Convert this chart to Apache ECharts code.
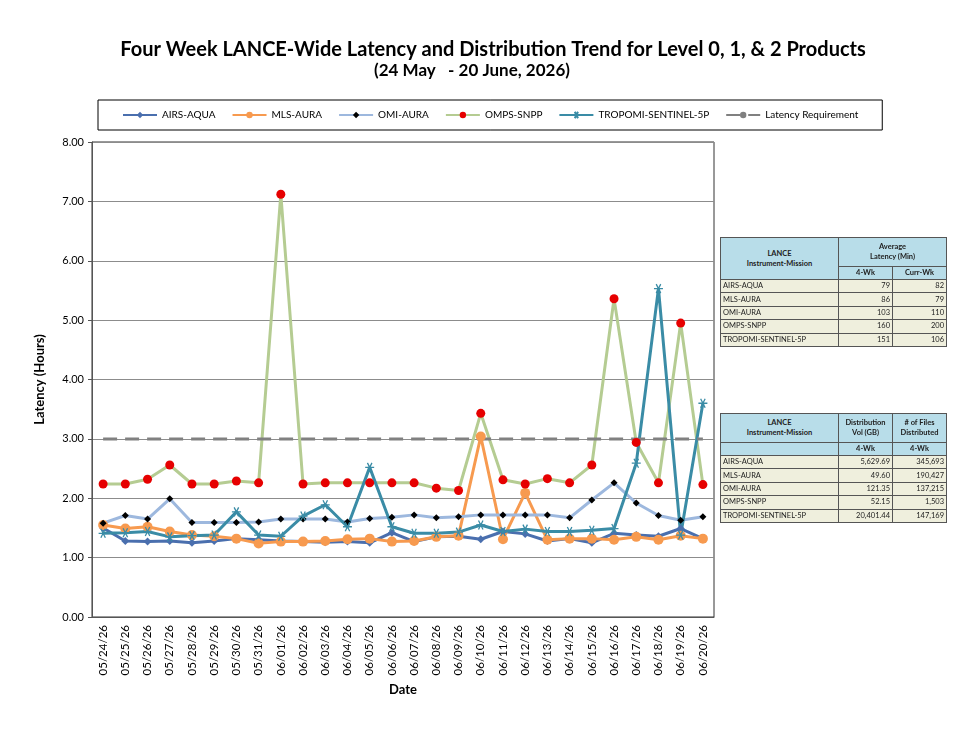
<!DOCTYPE html>
<html>
<head>
<meta charset="utf-8">
<script src="https://cdn.jsdelivr.net/npm/echarts@6/dist/echarts.min.js"></script>
<style>
  body { margin: 0; background: #fff; }
  #main { width: 972px; height: 729px; }
  .tbl { position: absolute; border-collapse: collapse; font-family: Lato, "Open Sans", sans-serif; font-size: 7.5px; color: #222; table-layout: fixed; }
  .tbl td { border: 1px solid #555; padding: 0 2px; height: 12.4px; line-height: 12px; background: #efefdd; white-space: nowrap; overflow: hidden; }
  .tbl td.h { background: #b8dde9; font-weight: bold; text-align: center; line-height: 10px; height: 28px; }
  .tbl tr.sub td.h { height: 12px; line-height: 12px; }
  .tbl td.n { text-align: right; }
</style>
</head>
<body>
<div id="main"></div>
<table class="tbl" id="t1" style="left:720px;top:237px;width:226px;"></table>
<table class="tbl" id="t2" style="left:720px;top:413px;width:226px;"></table>
<script>
// dates on the x axis
const dates = ['05/24/26','05/25/26','05/26/26','05/27/26','05/28/26','05/29/26','05/30/26',
  '05/31/26','06/01/26','06/02/26','06/03/26','06/04/26','06/05/26','06/06/26',
  '06/07/26','06/08/26','06/09/26','06/10/26','06/11/26','06/12/26','06/13/26',
  '06/14/26','06/15/26','06/16/26','06/17/26','06/18/26','06/19/26','06/20/26'];

// latency in hours
const airsAqua = [1.50,1.28,1.27,1.28,1.25,1.28,1.32,1.30,1.28,1.27,1.26,1.27,1.25,1.42,
  1.27,1.35,1.36,1.31,1.44,1.40,1.28,1.32,1.25,1.41,1.38,1.36,1.49,1.32];
const mlsAura = [1.55,1.49,1.52,1.44,1.38,1.36,1.32,1.24,1.27,1.27,1.28,1.31,1.32,1.27,
  1.28,1.35,1.37,3.04,1.31,2.09,1.30,1.32,1.32,1.30,1.35,1.30,1.37,1.32];
const omiAura = [1.58,1.71,1.65,1.99,1.59,1.59,1.59,1.60,1.65,1.65,1.65,1.60,1.66,1.68,
  1.72,1.67,1.69,1.72,1.72,1.72,1.72,1.67,1.97,2.26,1.92,1.71,1.63,1.69];
const ompsSnpp = [2.24,2.24,2.32,2.56,2.24,2.24,2.29,2.26,7.12,2.24,2.26,2.26,2.26,2.26,
  2.26,2.17,2.13,3.43,2.31,2.24,2.33,2.26,2.56,5.36,2.94,2.26,4.95,2.23];
const tropomi = [1.41,1.42,1.44,1.35,1.37,1.38,1.77,1.38,1.36,1.70,1.89,1.52,2.52,1.52,
  1.41,1.41,1.43,1.55,1.44,1.48,1.44,1.44,1.46,1.49,2.59,5.53,1.38,3.60];
const requirement = dates.map(() => 3.0);

// table values
const missions = ['AIRS-AQUA','MLS-AURA','OMI-AURA','OMPS-SNPP','TROPOMI-SENTINEL-5P'];
const avg4wk = ['79','86','103','160','151'];
const avgCurrWk = ['82','79','110','200','106'];
const volGB = ['5,629.69','49.60','121.35','52.15','20,401.44'];
const numFiles = ['345,693','190,427','137,215','1,503','147,169'];

const myChart = echarts.init(document.getElementById('main'));

const font = 'Lato, "Open Sans", sans-serif';

function lineSeries(name, data, color, symbol, symbolSize, symColor, extra) {
  return Object.assign({
    name: name,
    type: 'line',
    data: data,
    symbol: symbol,
    symbolSize: symbolSize,
    lineStyle: { color: color, width: 3 },
    itemStyle: { color: symColor },
    emphasis: { disabled: true },
  }, extra || {});
}

// excel style asterisk marker
const asterisk = 'path://M0,5L10,5M2.5,0.7L7.5,9.3M7.5,0.7L2.5,9.3';

const option = {
  backgroundColor: '#fff',
  animation: false,
  title: [
    {
      text: 'Four Week LANCE-Wide Latency and Distribution Trend for Level 0, 1, & 2 Products',
      left: 488,
      textAlign: 'center',
      top: 35,
      textStyle: { fontFamily: font, fontSize: 20, fontWeight: 'bold', color: '#000' },
    },
    {
      text: '(24 May   - 20 June, 2026)',
      left: 467,
      textAlign: 'center',
      top: 57,
      textStyle: { fontFamily: font, fontSize: 17, fontWeight: 'bold', color: '#000' },
    },
  ],
  legend: {
    top: 100,
    left: 98,
    padding: [10, 24, 10, 24],
    borderColor: '#000',
    borderWidth: 1,
    itemGap: 16,
    itemWidth: 34,
    itemHeight: 8,
    textStyle: { fontFamily: font, fontSize: 10, color: '#000' },
    data: ['AIRS-AQUA','MLS-AURA','OMI-AURA','OMPS-SNPP','TROPOMI-SENTINEL-5P','Latency Requirement'],
  },
  grid: {
    left: 92, right: 258, top: 142, bottom: 112,
    show: true, borderColor: '#333', borderWidth: 1,
  },
  xAxis: {
    type: 'category',
    data: dates,
    boundaryGap: true,
    name: 'Date',
    nameLocation: 'middle',
    nameGap: 64,
    nameTextStyle: { fontFamily: font, fontSize: 13, fontWeight: 'bold', color: '#000' },
    axisLine: { lineStyle: { color: '#555' } },
    axisTick: { show: false },
    axisLabel: { rotate: 90, interval: 0, fontFamily: font, fontSize: 11.5, color: '#000' },
  },
  yAxis: {
    type: 'value',
    min: 0, max: 8, interval: 1,
    name: 'Latency (Hours)',
    nameLocation: 'middle',
    nameGap: 46,
    nameTextStyle: { fontFamily: font, fontSize: 13, fontWeight: 'bold', color: '#000' },
    axisLine: { show: true, lineStyle: { color: '#555' } },
    axisTick: { show: true, length: 4, lineStyle: { color: '#555' } },
    axisLabel: { formatter: (v) => v.toFixed(2), fontFamily: font, fontSize: 11, color: '#000' },
    splitLine: { lineStyle: { color: '#8c8c8c', width: 1 } },
  },
  series: [
    lineSeries('AIRS-AQUA', airsAqua, '#4a6fae', 'diamond', 8, '#4a6fae'),
    lineSeries('MLS-AURA', mlsAura, '#f79a4f', 'circle', 10, '#f79a4f'),
    lineSeries('OMI-AURA', omiAura, '#9db8de', 'diamond', 7, '#000'),
    lineSeries('OMPS-SNPP', ompsSnpp, '#b5cc92', 'circle', 9, '#e60000'),
    lineSeries('TROPOMI-SENTINEL-5P', tropomi, '#3a8ca6', asterisk, 9, 'rgba(0,0,0,0)', {
      itemStyle: { color: 'rgba(0,0,0,0)', borderColor: '#3a8ca6', borderWidth: 1.3 },
    }),
    lineSeries('Latency Requirement', requirement, '#808080', 'circle', 3, '#808080', {
      showSymbol: false,
      lineStyle: { color: '#808080', width: 3, type: [14, 8] },
    }),
  ],
};

myChart.setOption(option);

// summary tables next to the chart
let h1 = '<colgroup><col style="width:118px"><col style="width:54px"><col style="width:54px"></colgroup>' +
  '<tr><td class="h" rowspan="2">LANCE<br>Instrument-Mission</td>' +
  '<td class="h" colspan="2">Average<br>Latency (Min)</td></tr>' +
  '<tr class="sub"><td class="h">4-Wk</td><td class="h">Curr-Wk</td></tr>';
missions.forEach((m, i) => {
  h1 += '<tr><td>' + m + '</td><td class="n">' + avg4wk[i] + '</td><td class="n">' + avgCurrWk[i] + '</td></tr>';
});
document.getElementById('t1').innerHTML = h1;

let h2 = '<colgroup><col style="width:118px"><col style="width:54px"><col style="width:54px"></colgroup>' +
  '<tr><td class="h">LANCE<br>Instrument-Mission</td>' +
  '<td class="h">Distribution<br>Vol (GB)</td><td class="h"># of Files<br>Distributed</td></tr>' +
  '<tr class="sub"><td class="h"></td><td class="h">4-Wk</td><td class="h">4-Wk</td></tr>';
missions.forEach((m, i) => {
  h2 += '<tr><td>' + m + '</td><td class="n">' + volGB[i] + '</td><td class="n">' + numFiles[i] + '</td></tr>';
});
document.getElementById('t2').innerHTML = h2;
</script>
</body>
</html>
